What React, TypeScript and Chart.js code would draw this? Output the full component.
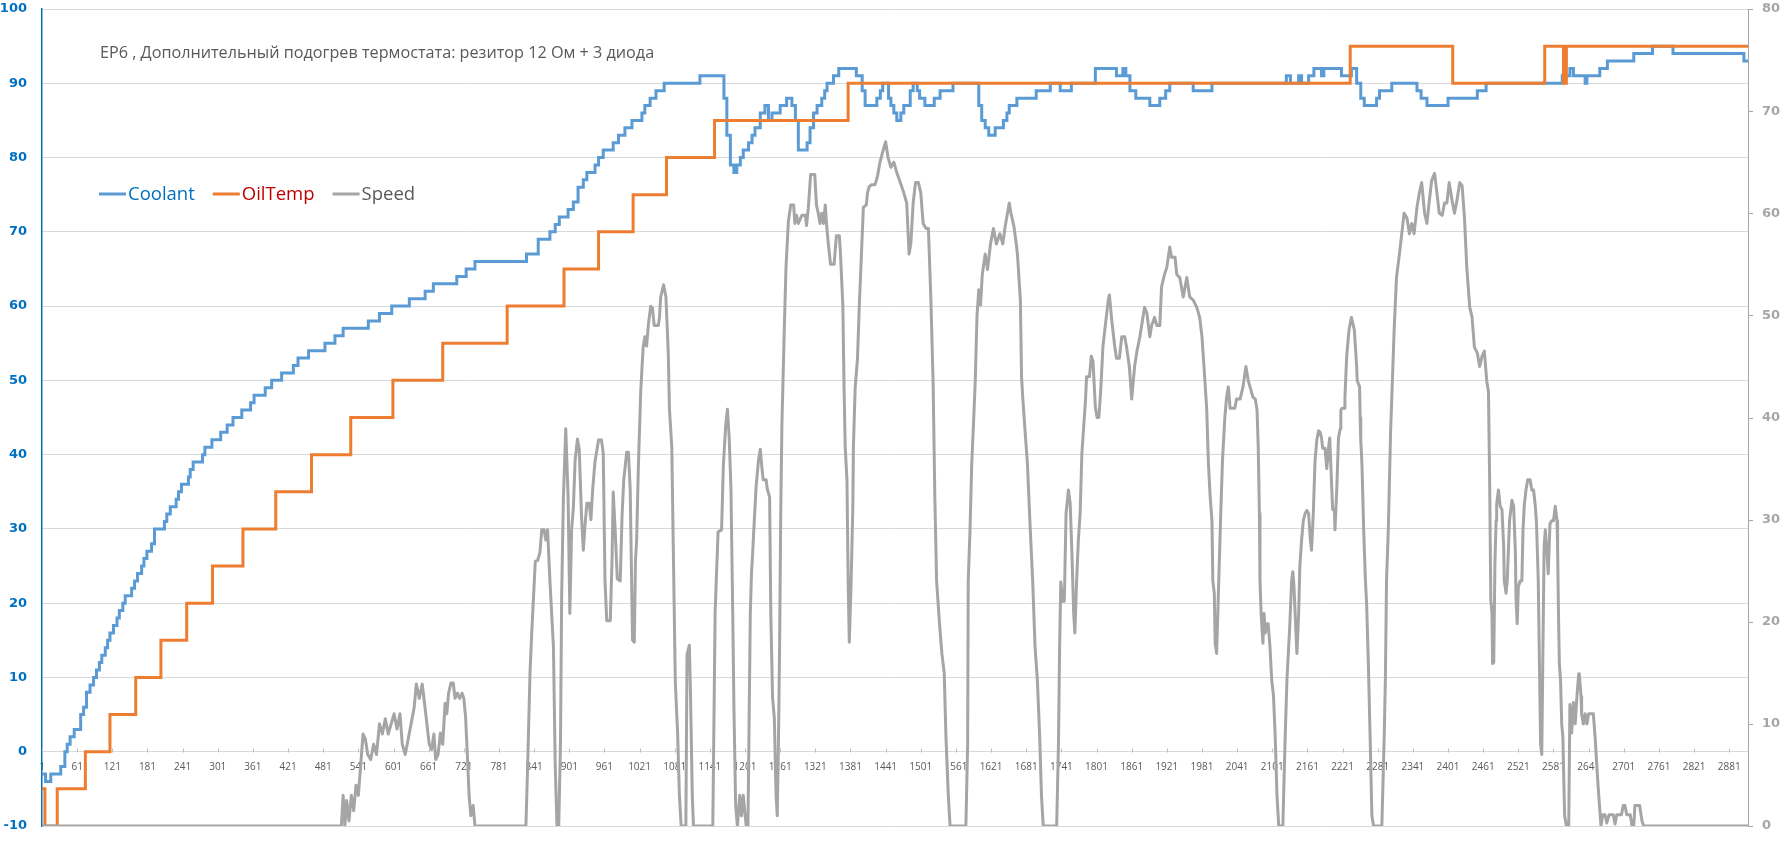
import React, { useEffect, useRef } from "react";
import { Chart, registerables } from "chart.js";

Chart.register(...registerables);

const TITLE = "EP6 , Дополнительный подогрев термостата: резитор 12 Ом + 3 диода";

const SERIES_NAMES = ["Coolant", "OilTemp", "Speed"];

const X_TICKS = [1, 61, 121, 181, 241, 301, 361, 421, 481, 541, 601, 661, 721, 781, 841, 901, 961, 1021, 1081, 1141, 1201, 1261, 1321, 1381, 1441, 1501, 1561, 1621, 1681, 1741, 1801, 1861, 1921, 1981, 2041, 2101, 2161, 2221, 2281, 2341, 2401, 2461, 2521, 2581, 2641, 2701, 2761, 2821, 2881];

const RIGHT_TICKS = [0, 10, 20, 30, 40, 50, 60, 70, 80];

// Coolant: [sample index where the value starts, value]
const COOLANT_STEPS: [number, number][] = [
  [1, -3], [7, -4], [16, -3], [33, -2], [40, 0], [44, 1], [49, 2], [56, 3], [67, 5], [72, 6], [77, 8], [83, 9], [89, 10], [94, 11], [99, 12], [103, 13], [109, 14], [113, 15], [117, 16], [123, 17], [129, 18], [133, 19], [139, 20], [143, 21], [154, 22], [159, 23], [164, 24], [171, 25], [175, 26], [180, 27], [188, 28], [193, 30], [210, 31], [214, 32], [220, 33], [230, 34], [234, 35], [239, 36], [251, 37], [254, 38], [259, 39], [275, 40], [279, 41], [291, 42], [306, 43], [317, 44], [327, 45], [342, 46], [357, 47], [363, 48], [382, 49], [393, 50],
  [410, 51], [430, 52], [438, 53], [456, 54], [484, 55], [501, 56], [515, 57], [558, 58], [577, 59], [598, 60], [628, 61], [655, 62], [669, 63], [709, 64], [725, 65], [740, 66], [828, 67], [848, 69], [868, 70], [877, 71], [884, 72], [899, 73], [908, 74], [916, 76], [925, 77], [931, 78], [945, 79], [951, 80], [959, 81], [976, 82], [985, 83], [996, 84], [1008, 85], [1025, 86], [1030, 87], [1039, 88], [1049, 89], [1063, 90], [1124, 91],
  [1165, 88], [1170, 83], [1176, 79], [1182, 78], [1187, 79], [1193, 80], [1198, 81], [1207, 82], [1213, 83], [1218, 84], [1227, 86], [1235, 87], [1241, 85], [1247, 86], [1261, 87], [1272, 88], [1281, 87], [1287, 85], [1292, 81], [1307, 82], [1312, 84], [1318, 86], [1324, 87], [1332, 88], [1337, 89], [1341, 90], [1352, 91], [1361, 92], [1391, 91], [1401, 89], [1406, 87], [1426, 88], [1432, 89], [1436, 90], [1446, 88], [1450, 87], [1455, 86], [1460, 85], [1467, 86], [1472, 87], [1483, 89], [1488, 90], [1495, 89], [1499, 88], [1508, 87], [1524, 88], [1534, 89], [1556, 90],
  [1600, 87], [1605, 85], [1611, 84], [1617, 83], [1628, 84], [1642, 85], [1648, 86], [1652, 87], [1665, 88], [1698, 89], [1722, 90], [1739, 89], [1758, 90], [1799, 92], [1835, 91], [1846, 92], [1851, 91], [1858, 89], [1868, 88], [1892, 87], [1909, 88], [1919, 89], [1926, 90], [1966, 89], [1998, 90], [2125, 91], [2132, 90], [2146, 91], [2151, 90], [2163, 91], [2172, 92], [2185, 91], [2189, 92], [2219, 91], [2236, 92], [2245, 90], [2252, 88], [2258, 87], [2279, 88], [2284, 89], [2305, 90], [2348, 89], [2355, 88], [2365, 87], [2401, 88], [2451, 89], [2466, 90], [2596, 91], [2609, 92], [2615, 91], [2635, 90], [2638, 91], [2660, 92], [2673, 93], [2718, 94], [2750, 95], [2785, 94], [2906, 93], [2913, 93],
];

// OilTemp: [sample index where the value starts, value]
const OIL_STEPS: [number, number][] = [
  [1, -5], [6, -10], [27, -5], [75, 0], [117, 5], [161, 10], [204, 15], [248, 20], [292, 25], [344, 30], [400, 35], [461, 40], [528, 45], [600, 50], [685, 55], [795, 60], [892, 65], [951, 70], [1010, 75], [1067, 80], [1149, 85], [1377, 90], [2234, 95], [2409, 90], [2566, 95], [2598, 90], [2603, 95], [2913, 95],
];

// Speed: [sample index, value]
const SPEED_TRACE: [number, number][] = [
  [1, 0], [512, 0], [515, 3], [518, 0], [521, 2.5], [525, 0.5], [529, 3], [533, 1.5], [537, 4], [541, 3], [545, 6], [549, 9], [553, 8.5], [557, 7], [562, 6.5], [567, 8], [572, 7], [577, 10], [582, 9], [587, 10.5], [592, 9], [597, 10], [602, 11], [607, 9.5], [612, 11], [616, 8], [621, 7], [626, 8.5], [631, 10], [636, 11.5], [640, 13.9], [645, 12.5], [650, 13.9], [654, 12], [658, 10], [662, 8], [666, 7.5], [670, 9], [673, 6.5], [677, 7], [681, 9.1], [685, 8], [689, 12], [692, 11], [695, 13], [699, 14], [703, 14], [706, 12.5], [710, 13], [714, 12.5], [718, 13], [721, 12.5], [724, 10.7], [727, 7], [730, 3], [733, 1], [737, 2], [740, 0],
  [827, 0], [830, 6], [834, 15], [837, 19], [843, 25.9], [847, 26], [851, 26.8], [854, 29], [858, 29], [861, 28], [864, 29], [868, 24], [874, 17.5], [877, 6], [880, 0], [883, 0], [886, 8], [888, 22.4], [891, 32.2], [895, 38.9], [899, 32.2], [902, 20.8], [905, 29], [908, 31.2], [911, 35.8], [915, 37.9], [918, 36.9], [922, 30.2], [925, 27], [928, 29.5], [931, 31.6], [935, 31.6], [938, 30], [941, 33], [945, 35.7], [951, 37.8], [956, 37.8], [959, 36.5], [962, 24], [965, 20.1], [971, 20.1], [974, 26], [976, 32.7], [979, 29.4], [983, 24.2], [988, 24], [991, 30.2], [994, 33.9], [999, 36.6], [1002, 36.6], [1005, 33], [1009, 18.2], [1012, 18], [1014, 26], [1016, 28], [1019, 35.3], [1023, 42.6], [1027, 46.8], [1030, 47.9], [1033, 47], [1036, 49.1], [1040, 50.9], [1043, 50.7], [1046, 49], [1053, 49], [1055, 49.8], [1057, 51.8], [1062, 53], [1066, 51.8], [1070, 46.3], [1072, 40.8], [1076, 37.1], [1079, 25.6], [1082, 14.1], [1086, 9], [1089, 3], [1092, 0], [1100, 0], [1102, 16.8], [1106, 17.7], [1108, 12.7], [1111, 3], [1113, 0],
  [1146, 0], [1150, 21], [1155, 28.8], [1161, 29], [1164, 35.3], [1168, 39.2], [1171, 40.8], [1174, 38], [1177, 33], [1180, 21], [1182, 11.8], [1185, 2], [1188, 0], [1192, 3], [1195, 1], [1198, 3], [1203, 0], [1206, 0], [1210, 20.8], [1212, 24.7], [1214, 26.7], [1216, 29], [1220, 33.3], [1224, 35.8], [1227, 36.9], [1230, 35], [1232, 33.9], [1237, 33.9], [1239, 33], [1243, 32.2], [1245, 20.8], [1248, 12.6], [1251, 10.6], [1254, 3], [1256, 1], [1258, 8], [1260, 17.5], [1262, 30.9], [1264, 39.4], [1268, 48.6], [1271, 54.8], [1275, 59.2], [1279, 60.8], [1284, 60.8], [1286, 59], [1289, 59.8], [1292, 59], [1298, 59.8], [1304, 59.8], [1306, 58.8], [1309, 60.5], [1313, 63.8], [1320, 63.8], [1323, 60.8], [1326, 60], [1329, 59], [1332, 60], [1335, 59], [1338, 60.8], [1340, 59], [1343, 57.1], [1347, 55], [1353, 55], [1357, 57.8], [1362, 57.8], [1364, 56], [1368, 50.9], [1370, 43.1], [1372, 37.1], [1375, 33.9], [1377, 24], [1379, 18], [1382, 23.7], [1385, 31.1], [1386, 37.1], [1389, 42.9], [1393, 45.8], [1396, 50.9], [1400, 56.4], [1403, 60.6], [1408, 60.8], [1410, 62], [1413, 62.6], [1417, 62.8], [1423, 62.8], [1427, 63.6], [1431, 64.9], [1436, 66], [1441, 67], [1445, 65.5], [1450, 64.5], [1455, 65], [1460, 64], [1466, 63], [1472, 62], [1477, 61], [1481, 56], [1484, 57], [1488, 61], [1492, 63], [1497, 63], [1501, 62], [1505, 59], [1510, 58.5], [1514, 58.5], [1518, 52], [1522, 43.6], [1525, 32.2], [1528, 24], [1533, 19.8], [1537, 16.9], [1541, 15], [1544, 8.7], [1548, 3], [1551, 0],
  [1578, 0], [1581, 8], [1582, 24], [1585, 28.9], [1588, 35.5], [1591, 39.4], [1594, 43.6], [1597, 50], [1600, 52.5], [1603, 51], [1606, 54], [1611, 56], [1615, 54.5], [1620, 57], [1625, 58.5], [1630, 57], [1636, 58], [1641, 57], [1645, 58.7], [1649, 60], [1652, 61], [1655, 60], [1660, 58.7], [1664, 57], [1666, 56], [1671, 51.5], [1673, 44], [1675, 42], [1679, 38.7], [1683, 35.5], [1688, 28.9], [1692, 24], [1696, 17.6], [1700, 14.3], [1704, 8.7], [1707, 3], [1710, 0],
  [1733, 0], [1736, 8], [1738, 17.6], [1740, 23.9], [1743, 22], [1746, 22], [1749, 30.6], [1753, 32.9], [1756, 31.6], [1759, 26.7], [1762, 20.8], [1764, 18.9], [1767, 24], [1770, 28], [1773, 30.6], [1776, 36.5], [1780, 39.9], [1782, 41.5], [1784, 44], [1789, 44], [1792, 46], [1795, 45.5], [1799, 41], [1802, 40], [1805, 40], [1808, 42.5], [1812, 47], [1816, 49], [1821, 51.5], [1823, 52], [1827, 49.5], [1832, 47], [1835, 45.8], [1840, 45.8], [1844, 47.9], [1849, 47.9], [1852, 47], [1857, 45], [1861, 41.8], [1866, 45], [1870, 46.5], [1875, 47.9], [1878, 49], [1883, 50.8], [1887, 50.2], [1892, 47.9], [1895, 49], [1900, 49.8], [1904, 49], [1909, 49], [1912, 52.8], [1917, 54], [1921, 54.7], [1926, 56.7], [1929, 55.7], [1935, 55.7], [1938, 54], [1943, 53.7], [1949, 51.8], [1955, 53.7], [1960, 51.8], [1966, 51.5], [1972, 50.8], [1977, 49.8], [1981, 47.9], [1986, 43.6], [1989, 40.9], [1992, 35.5], [1995, 32.2], [1998, 29.9], [1999.5, 24], [2002, 22.8], [2003.5, 17.9], [2006, 16.9], [2008, 20.8], [2011, 26.7], [2013, 30.6], [2016, 35.8], [2020, 40], [2023, 42], [2026, 43], [2029, 40.9], [2037, 40.9], [2040, 41.8], [2046, 41.8], [2051, 43], [2056, 45], [2060, 43.6], [2063, 43], [2068, 42], [2072, 41.8], [2075, 40.7], [2077, 37.1], [2079, 30.6], [2080, 24], [2082, 20.8], [2085, 17.9], [2087, 20.8], [2089, 18.9], [2092, 19.8], [2094, 19.8], [2097, 17.6], [2100, 14.3], [2103, 12.8], [2106, 8.7], [2109, 3], [2112, 0],
  [2119, 0], [2123, 8.7], [2126, 14.3], [2129, 17.6], [2131, 19.8], [2134, 24], [2136, 24.9], [2138, 23.5], [2140, 20.8], [2143, 16.9], [2146, 20.8], [2148, 25.4], [2151, 28], [2154, 29.9], [2157, 30.6], [2160, 30.9], [2163, 30.6], [2166, 28], [2168, 27], [2171, 30.6], [2174, 35.8], [2177, 37.8], [2180, 38.7], [2183, 38.5], [2185, 38], [2187, 37], [2191, 37], [2194, 35], [2197, 37], [2199, 38], [2201, 35.2], [2204, 31], [2207, 31], [2208, 29], [2211, 32.9], [2214, 38], [2217, 38.9], [2218, 40.7], [2220, 40.9], [2224, 40.9], [2225, 42], [2228, 46], [2232, 48.6], [2236, 49.8], [2241, 48.6], [2245, 45], [2246, 43.6], [2250, 43], [2251, 40], [2252, 37.8], [2254, 35.5], [2257, 29], [2260, 24], [2262, 21.8], [2265, 15.9], [2268, 8.7], [2271, 1], [2274, 0],
  [2288, 0], [2292, 8.7], [2294, 14.3], [2296, 24], [2299, 29], [2301, 33.9], [2303, 38.7], [2306, 43.6], [2309, 48.6], [2313, 53.7], [2318, 56], [2322, 58], [2326, 60], [2331, 59.5], [2335, 58], [2339, 59], [2343, 58], [2348, 60.6], [2352, 62], [2356, 63], [2361, 60], [2365, 59], [2369, 61.2], [2373, 63.2], [2378, 63.9], [2382, 62], [2386, 60], [2391, 59.8], [2395, 61], [2399, 61], [2403, 63], [2408, 61.2], [2412, 60], [2416, 61.2], [2421, 63], [2425, 62.7], [2429, 59.6], [2433, 54.7], [2438, 50.8], [2442, 49.8], [2446, 46.9], [2451, 46.3], [2455, 45], [2459, 46], [2463, 46.5], [2467, 43.6], [2470, 42.5], [2472, 33.9], [2474, 22.1], [2476, 20.8], [2477, 15.9], [2479, 16], [2481, 25.7], [2483, 29.9], [2484, 31.5], [2487, 32.9], [2490, 31.3], [2493, 31], [2496, 27.3], [2497, 24], [2500, 22.8], [2502, 24], [2506, 29.9], [2510, 31.9], [2513, 31.3], [2516, 26.7], [2517, 22.4], [2519, 19.8], [2521, 23.4], [2524, 24], [2527, 24], [2529, 29], [2531, 31.3], [2534, 32.9], [2537, 33.9], [2541, 33.9], [2544, 32.9], [2547, 32.9], [2550, 31.3], [2552, 29.6], [2555, 24], [2557, 15.9], [2559, 8], [2561, 7], [2563, 17.5], [2565, 27.3], [2567, 29], [2570, 26.7], [2572, 24.7], [2575, 29.6], [2578, 29.9], [2581, 29.9], [2584, 31.3], [2587, 29.9], [2588, 27.3], [2589.5, 20.8], [2591, 15.9], [2593, 14.3], [2595, 10], [2597, 8.7], [2600, 1], [2603, 0],
  [2607, 0], [2609, 11.9], [2612, 9.1], [2615, 12.1], [2618, 10], [2621, 12.7], [2624, 14.9], [2625, 14.9], [2628, 12.7], [2629, 11], [2632, 10], [2635, 11], [2638, 10], [2641, 11], [2649, 11], [2652, 8.7], [2657, 4], [2662, 0], [2665, 1.1], [2669, 1.1], [2672, 0.3], [2676, 1.1], [2683, 1.1], [2686, 0.2], [2689, 1.1], [2697, 1.1], [2700, 2], [2703, 2], [2706, 1.1], [2712, 1.1], [2715, 0], [2718, 0], [2720, 2], [2728, 2], [2732, 0.5], [2735, 0], [2913, 0],
];

const X_MIN = 1;
const X_MAX = 2913;

const LINE_COLORS = ["#5B9BD5", "#ED7D31", "#A5A5A5"];
const LEGEND_TEXT_COLORS = ["#0070C0", "#C00000", "#595959"];

const toPoints = (arr: [number, number][]) => arr.map(([x, y]) => ({ x, y }));

const overlayPlugin = {
  id: "overlay",
  beforeDatasetsDraw(chart: any) {
    const ctx = chart.ctx;
    const xs = chart.scales.x;
    const ys = chart.scales.y;
    const yr = chart.scales.y1;
    const y0 = Math.round(ys.getPixelForValue(0)) + 0.5;
    ctx.save();
    ctx.lineWidth = 1;
    ctx.strokeStyle = "#BFBFBF";
    ctx.beginPath();
    X_TICKS.forEach((v) => {
      const px = Math.round(xs.getPixelForValue(v)) + 0.5;
      ctx.moveTo(px, y0 - 4);
      ctx.lineTo(px, y0);
    });
    ctx.stroke();
    ctx.strokeStyle = "#A6A6A6";
    ctx.beginPath();
    const rx = chart.chartArea.right;
    RIGHT_TICKS.forEach((v) => {
      const py = Math.round(yr.getPixelForValue(v)) + 0.5;
      ctx.moveTo(rx, py);
      ctx.lineTo(rx + 5, py);
    });
    ctx.stroke();
    ctx.restore();
  },
  afterDraw(chart: any) {
    const ctx = chart.ctx;
    ctx.save();
    ctx.font = '16.2px "Open Sans"';
    ctx.fillStyle = "#595959";
    ctx.textBaseline = "alphabetic";
    ctx.textAlign = "left";
    ctx.fillText(TITLE, 100, 58);

    ctx.font = '18.5px "Open Sans"';
    ctx.textBaseline = "middle";
    let x = 99;
    const y = 194;
    chart.data.datasets.forEach((ds: any, i: number) => {
      ctx.strokeStyle = ds.borderColor;
      ctx.lineWidth = 3;
      ctx.beginPath();
      ctx.moveTo(x, y);
      ctx.lineTo(x + 27, y);
      ctx.stroke();
      ctx.fillStyle = LEGEND_TEXT_COLORS[i];
      ctx.fillText(ds.label, x + 29, y + 1);
      x += 29 + ctx.measureText(ds.label).width + 18;
    });
    ctx.restore();
  },
};

export default function App() {
  const ref = useRef<HTMLCanvasElement | null>(null);

  useEffect(() => {
    if (!ref.current) return;
    const chart = new Chart(ref.current, {
      type: "line",
      data: {
        datasets: [
          {
            label: SERIES_NAMES[0],
            data: toPoints(COOLANT_STEPS),
            borderColor: LINE_COLORS[0],
            backgroundColor: LINE_COLORS[0],
            borderWidth: 3,
            stepped: "before",
            pointRadius: 0,
            fill: false,
            yAxisID: "y",
            order: 2,
          },
          {
            label: SERIES_NAMES[1],
            data: toPoints(OIL_STEPS),
            borderColor: LINE_COLORS[1],
            backgroundColor: LINE_COLORS[1],
            borderWidth: 3,
            stepped: "before",
            pointRadius: 0,
            fill: false,
            yAxisID: "y",
            order: 1,
          },
          {
            label: SERIES_NAMES[2],
            data: toPoints(SPEED_TRACE),
            borderColor: LINE_COLORS[2],
            backgroundColor: LINE_COLORS[2],
            borderWidth: 3,
            borderJoinStyle: "round",
            tension: 0,
            pointRadius: 0,
            fill: false,
            yAxisID: "y1",
            order: 0,
          },
        ],
      } as any,
      options: {
        animation: false,
        responsive: false,
        events: [],
        layout: { padding: { top: 9, bottom: 21, left: 0, right: 0 } },
        plugins: {
          legend: { display: false },
          title: { display: false },
          tooltip: { enabled: false },
        },
        scales: {
          x: {
            type: "linear",
            axis: "x",
            position: { y: 0 },
            min: X_MIN,
            max: X_MAX,
            afterBuildTicks: (s: any) => {
              s.ticks = X_TICKS.map((v) => ({ value: v }));
            },
            ticks: {
              autoSkip: false,
              maxRotation: 0,
              minRotation: 0,
              color: "#595959",
              font: { family: "Open Sans", size: 10 },
              padding: 9,
              callback: (v: any) => String(v),
            },
            grid: { display: false, drawTicks: false },
            border: { display: true, color: "#D9D9D9", width: 1 },
          },
          y: {
            type: "linear",
            position: "left",
            min: -10,
            max: 100,
            ticks: {
              stepSize: 10,
              color: "#0070C0",
              font: { family: "DejaVu Sans", size: 13, weight: "bold" },
              padding: 0,
            },
            grid: { color: "#D9D9D9", lineWidth: 1, drawTicks: true, tickLength: 15, tickColor: "rgba(0,0,0,0)" },
            border: { display: true, color: "#0070C0", width: 1.5 },
            afterFit: (s: any) => {
              s.width = 42;
            },
          },
          y1: {
            type: "linear",
            position: "right",
            min: 0,
            max: 80,
            ticks: {
              stepSize: 10,
              color: "#A6A6A6",
              font: { family: "DejaVu Sans", size: 13, weight: "bold" },
              padding: 0,
            },
            grid: { drawOnChartArea: false, drawTicks: true, tickLength: 14, tickColor: "rgba(0,0,0,0)" },
            border: { display: true, color: "#A6A6A6", width: 1 },
            afterFit: (s: any) => {
              s.width = 39;
            },
          },
        },
      } as any,
      plugins: [overlayPlugin],
    });
    return () => chart.destroy();
  }, []);

  return (
    <div style={{ position: "fixed", left: 0, top: 0, width: 1787, height: 847, background: "#ffffff" }}>
      <canvas ref={ref} width={1787} height={847} style={{ display: "block", width: 1787, height: 847 }} />
    </div>
  );
}
